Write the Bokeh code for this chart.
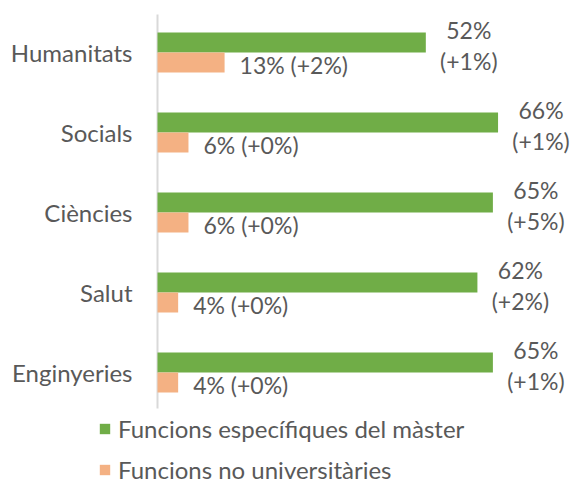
from bokeh.plotting import figure
from bokeh.models import ColumnDataSource, Legend, LegendItem, Range1d
from bokeh.core.properties import value
from bokeh.embed import file_html
from bokeh.resources import INLINE

categories = ["Humanitats", "Socials", "Ciències", "Salut", "Enginyeries"]
master = [52, 66, 65, 62, 65]
master_delta = ["+1%", "+1%", "+5%", "+2%", "+1%"]
no_uni = [13, 6, 6, 4, 4]
no_uni_delta = ["+2%", "+0%", "+0%", "+0%", "+0%"]

GREEN = "#70AD47"
ORANGE = "#F4B183"
TEXT = "#595959"
FONT = "Lato"
FS = "23px"
FS_CAT = "24px"

n = len(categories)
ypos = [n - 1 - i for i in range(n)]  # first category on top
src = ColumnDataSource(dict(
    cat=categories,
    y=ypos,
    yg=[y + 0.125 for y in ypos],
    yo=[y - 0.125 for y in ypos],
    zero=[0] * n,
    master=master,
    no_uni=no_uni,
    mlab=[f"{v}%\n({d})" for v, d in zip(master, master_delta)],
    nlab=[f"{v}% ({d})" for v, d in zip(no_uni, no_uni_delta)],
))

p = figure(width=570, height=486, output_backend="svg", toolbar_location=None,
           x_range=Range1d(-30.43, 80.04), y_range=Range1d(-1.425, 4.65),
           min_border_left=0, min_border_right=0, min_border_top=0, min_border_bottom=0)
p.outline_line_color = None
p.xgrid.visible = False
p.ygrid.visible = False
p.xaxis.visible = False
p.yaxis.visible = False
p.background_fill_color = None
p.border_fill_color = "white"

# axis line along the categories
p.segment(x0=0, y0=min(ypos) - 0.45, x1=0, y1=max(ypos) + 0.475,
          line_color="#D9D9D9", line_width=2)

g = p.hbar(y="yg", right="master", left="zero", height=0.25,
           source=src, fill_color=GREEN, line_color=None)
o = p.hbar(y="yo", right="no_uni", left="zero", height=0.25,
           source=src, fill_color=ORANGE, line_color=None)

# category labels
p.text(x="zero", y="y", text="cat", source=src, x_offset=-25, text_align="right",
       text_baseline="middle", text_font=value(FONT), text_font_size=FS_CAT, text_color=TEXT)

p.text(x="master", y="yg", text="mlab", source=src,
       x_offset=43, y_offset=3, text_align="center", text_baseline="middle",
       text_font=value(FONT), text_font_size=FS, text_color=TEXT, text_line_height=1.1)
p.text(x="no_uni", y="yo", text="nlab", source=src,
       x_offset=15, y_offset=2, text_align="left", text_baseline="middle",
       text_font=value(FONT), text_font_size=FS, text_color=TEXT)

legend = Legend(items=[
    LegendItem(label="Funcions específiques del màster", renderers=[g]),
    LegendItem(label="Funcions no universitàries", renderers=[o]),
], location=(98, 2), orientation="vertical")
legend.border_line_color = None
legend.background_fill_alpha = 0
legend.padding = 0
legend.margin = 0
legend.spacing = 12
legend.glyph_width = 13
legend.glyph_height = 13
legend.label_height = 26
legend.label_standoff = 7
legend.label_text_font = FONT
legend.label_text_font_size = FS_CAT
legend.label_text_color = TEXT
p.add_layout(legend, "center")

open("out.html", "w").write(file_html(p, INLINE))
